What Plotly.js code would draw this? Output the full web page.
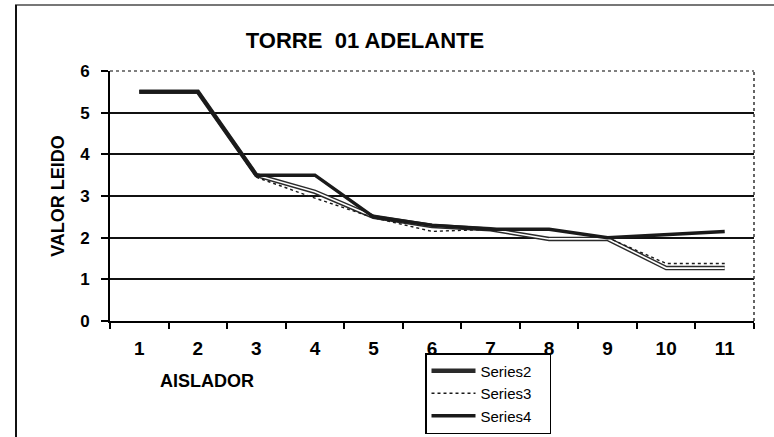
<!DOCTYPE html>
<html>
<head>
<meta charset="utf-8">
<script src="https://cdn.plot.ly/plotly-3.0.1.min.js"></script>
<style>
  html, body { margin: 0; padding: 0; background: #fff; }
  #chart { width: 774px; height: 437px; }
</style>
</head>
<body>
<div id="chart"></div>
<script>
// ---- data ----
const categories = [1, 2, 3, 4, 5, 6, 7, 8, 9, 10, 11];
const tickLabels = ['1', '2', '3', '4', '5', '6', '7', '8', '9', '10', '11'];
const series2 = [5.5, 5.5, 3.5, 3.1, 2.5, 2.28, 2.2, 1.97, 1.97, 1.27, 1.27];
const series3 = [5.5, 5.5, 3.45, 2.95, 2.48, 2.15, 2.2, 2.2, 2.0, 1.38, 1.38];
const series4 = [5.5, 5.5, 3.5, 3.5, 2.5, 2.3, 2.2, 2.2, 2.0, 2.08, 2.15];
const seriesNames = ['Series2', 'Series3', 'Series4'];

const FONT = 'Arial, "Liberation Sans", sans-serif';
const PAD = '\u00a0\u00a0\u00a0';

// plot-area geometry helpers (pixels -> paper) for decorations only
const L = 110, R = 20, T = 71, B = 116, W = 774, H = 437;
const pw = W - L - R, ph = H - T - B;
const px = x => (x - L) / pw;
const py = y => (H - B - y) / ph;

const traces = [
  { x: categories, y: series2, name: seriesNames[0] + PAD, type: 'scatter', mode: 'lines',
    line: { color: '#2a2a2a', width: 4.5 }, legendgroup: 's2' },
  { x: categories, y: series2, name: seriesNames[0], type: 'scatter', mode: 'lines',
    line: { color: '#ffffff', width: 1.6 }, legendgroup: 's2', showlegend: false, hoverinfo: 'skip' },
  { x: categories, y: series3, name: seriesNames[1] + PAD, type: 'scatter', mode: 'lines',
    line: { color: '#1a1a1a', width: 1.4, dash: 'dot' } },
  { x: categories, y: series4, name: seriesNames[2] + PAD, type: 'scatter', mode: 'lines',
    line: { color: '#1a1a1a', width: 3.5 } }
];

const halfTicks = categories.map(c => c - 0.5).concat([categories[categories.length - 1] + 0.5]);

const layout = {
  width: W, height: H,
  margin: { l: L, r: R, t: T, b: B, pad: 0, autoexpand: false },
  paper_bgcolor: '#ffffff',
  plot_bgcolor: '#ffffff',
  showlegend: true,
  title: {
    text: 'TORRE\u00a0\u00a001 ADELANTE',
    font: { family: FONT, size: 22, color: '#000', weight: 'bold' },
    xref: 'paper', x: px(365), xanchor: 'center',
    yref: 'container', y: 1 - 40 / H, yanchor: 'middle'
  },
  xaxis: {
    range: [0.5, 11.5],
    tickmode: 'array', tickvals: categories, ticktext: tickLabels,
    ticks: '', showgrid: false, zeroline: false,
    showline: true, linecolor: '#000', linewidth: 2,
    tickfont: { family: FONT, size: 19, color: '#000', weight: 'bold' },
    ticklabelstandoff: 9,
    minor: { tickmode: 'array', tickvals: halfTicks, ticks: 'outside', ticklen: 6,
             tickwidth: 2, tickcolor: '#000', showgrid: false },
    automargin: false,
    fixedrange: true
  },
  yaxis: {
    range: [0, 6], dtick: 1, tick0: 0,
    ticks: 'outside', ticklen: 7, tickwidth: 2, tickcolor: '#000',
    showline: true, linecolor: '#000', linewidth: 2,
    showgrid: true, gridcolor: '#111', gridwidth: 2,
    zeroline: false,
    tickfont: { family: FONT, size: 17, color: '#000', weight: 'bold' },
    ticklabelstandoff: 8,
    title: { text: 'VALOR LEIDO', standoff: 11,
             font: { family: FONT, size: 18, color: '#000', weight: 'bold' } },
    automargin: false,
    fixedrange: true
  },
  legend: {
    x: px(425), y: py(353), xanchor: 'left', yanchor: 'top',
    bgcolor: '#fff', bordercolor: '#000', borderwidth: 1.5,
    font: { family: FONT, size: 15, color: '#000' },
    itemwidth: 44,
    tracegroupgap: 0
  },
  annotations: [
    { text: 'AISLADOR', xref: 'paper', yref: 'paper', x: px(207), y: py(381),
      xanchor: 'center', yanchor: 'middle', showarrow: false,
      font: { family: FONT, size: 18, color: '#000', weight: 'bold' } }
  ],
  shapes: [
    // dotted plot-area border (top / right)
    { type: 'line', xref: 'paper', yref: 'paper', x0: 0, x1: 1, y0: 1, y1: 1,
      line: { color: '#555', width: 1.5, dash: 'dot' } },
    { type: 'line', xref: 'paper', yref: 'paper', x0: 1, x1: 1, y0: 0, y1: 1,
      line: { color: '#333', width: 1.5, dash: 'dot' } },
    // outer chart frame (top and left edges of the scanned frame)
    { type: 'line', xref: 'paper', yref: 'paper', x0: px(15), x1: px(774), y0: py(5), y1: py(5),
      line: { color: '#777', width: 2 } },
    { type: 'line', xref: 'paper', yref: 'paper', x0: px(16), x1: px(16), y0: py(5), y1: py(437),
      line: { color: '#111', width: 2 } }
  ]
};

Plotly.newPlot('chart', traces, layout, { displayModeBar: false, staticPlot: true });
</script>
</body>
</html>
